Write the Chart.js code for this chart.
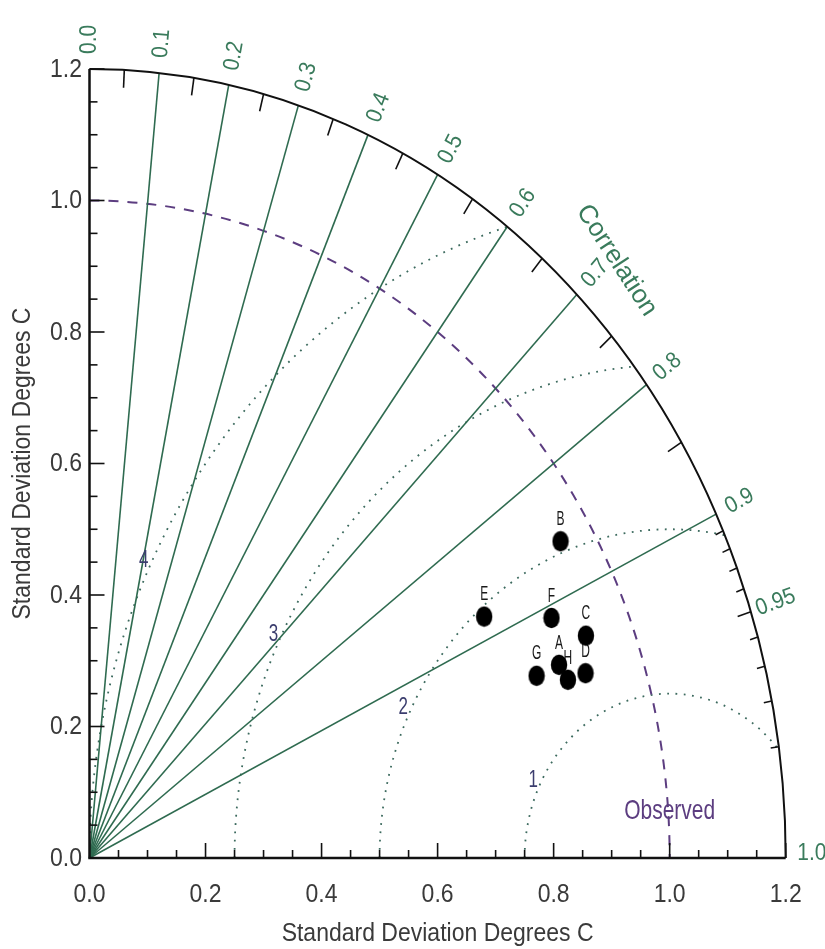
<!DOCTYPE html>
<html>
<head>
<meta charset="utf-8">
<script src="https://cdn.jsdelivr.net/npm/chart.js@4.4.1/dist/chart.umd.min.js"></script>
<style>
  html, body { margin: 0; padding: 0; background: #ffffff; }
  canvas { display: block; }
</style>
</head>
<body>
<canvas id="taylor" width="825" height="949"></canvas>
<script>
// Model runs: standard deviation (deg C) and correlation with the observations
const modelNames  = ['A', 'B', 'C', 'D', 'E', 'F', 'G', 'H'];
const stdDev      = [0.861, 0.944, 0.920, 0.900, 0.773, 0.876, 0.819, 0.868];
const correlation = [0.940, 0.860, 0.930, 0.950, 0.880, 0.909, 0.941, 0.950];

// Reference values
const observedStd = 1.0;
const maxStd = 1.2;

// Correlation labels around the outer arc and the radial lines
const corrLabelValues = [0.0, 0.1, 0.2, 0.3, 0.4, 0.5, 0.6, 0.7, 0.8, 0.9, 0.95, 1.0];
const corrLabelText   = ['0.0', '0.1', '0.2', '0.3', '0.4', '0.5', '0.6', '0.7', '0.8', '0.9', '0.95', '1.0'];
const corrLines       = [0.1, 0.2, 0.3, 0.4, 0.5, 0.6, 0.7, 0.8, 0.9];
const corrMinorTicks  = [0.05, 0.15, 0.25, 0.35, 0.45, 0.55, 0.65, 0.75, 0.85];
const corrFineTicks   = [0.91, 0.92, 0.93, 0.94, 0.96, 0.97, 0.98, 0.99];

// Centred RMS difference circles
const rmsRadii  = [0.25, 0.5, 0.75, 1.0];
const rmsLabels = ['1', '2', '3', '4'];

// Standard deviation axes
const axisTickValues = [0.0, 0.2, 0.4, 0.6, 0.8, 1.0, 1.2];
const axisTickLabels = ['0.0', '0.2', '0.4', '0.6', '0.8', '1.0', '1.2'];
const axisTitle = 'Standard Deviation Degrees C';
const correlationTitle = 'Correlation';
const observedLabel = 'Observed';

const FONT = '"Liberation Sans", Arial, "DejaVu Sans", sans-serif';
const GREEN_LINE = '#2f6b50';
const GREEN_TEXT = '#3a7b5c';
const PURPLE = '#5c3d80';
const DOTS = '#3c6a5e';

// Taylor-diagram coordinates of each model
const modelPoints = stdDev.map((s, i) => ({
  x: s * correlation[i],
  y: s * Math.sqrt(1 - correlation[i] * correlation[i]),
  name: modelNames[i]
}));

// Filled elliptical marker used for every model
const dot = document.createElement('canvas');
dot.width = 18; dot.height = 22;
(function () {
  const c = dot.getContext('2d');
  c.fillStyle = '#000';
  c.beginPath();
  c.ellipse(9, 11, 8.2, 10.2, 0, 0, Math.PI * 2);
  c.fill();
})();

function drawText(ctx, s, x, y, o) {
  ctx.save();
  ctx.translate(x, y);
  if (o.rot) ctx.rotate(o.rot);
  ctx.scale(o.sx || 1, o.sy || 1.1);
  ctx.font = (o.size || 23) + 'px ' + FONT;
  ctx.fillStyle = o.color || '#333';
  ctx.textAlign = o.align || 'center';
  ctx.textBaseline = 'middle';
  ctx.fillText(s, 0, 0);
  ctx.restore();
}

const taylorGrid = {
  id: 'taylorGrid',
  beforeDatasetsDraw(chart) {
    const ctx = chart.ctx;
    const xs = chart.scales.x, ys = chart.scales.y;
    const px = v => xs.getPixelForValue(v);
    const py = v => ys.getPixelForValue(v);
    const ox = px(0), oy = py(0);
    const kx = px(1) - ox, ky = oy - py(1);
    const polar = (r, c) => [px(r * c), py(r * Math.sqrt(Math.max(0, 1 - c * c)))];

    ctx.save();

    // RMS circles, clipped to the quarter disc
    ctx.save();
    ctx.beginPath();
    ctx.moveTo(ox, oy);
    ctx.lineTo(ox, py(maxStd));
    ctx.ellipse(ox, oy, maxStd * kx, maxStd * ky, 0, -Math.PI / 2, 0);
    ctx.closePath();
    ctx.clip();
    ctx.strokeStyle = DOTS;
    ctx.lineWidth = 1.8;
    ctx.setLineDash([1.8, 6.5]);
    rmsRadii.forEach(r => {
      ctx.beginPath();
      ctx.ellipse(px(observedStd), oy, r * kx, r * ky, 0, -Math.PI, 0);
      ctx.stroke();
    });
    ctx.restore();

    // observed standard deviation arc
    ctx.strokeStyle = PURPLE;
    ctx.lineWidth = 2;
    ctx.setLineDash([10, 9]);
    ctx.beginPath();
    ctx.ellipse(ox, oy, observedStd * kx, observedStd * ky, 0, -Math.PI / 2, 0);
    ctx.stroke();
    ctx.setLineDash([]);

    // correlation rays
    ctx.strokeStyle = GREEN_LINE;
    ctx.lineWidth = 1.6;
    corrLines.forEach(c => {
      const [ex, ey] = polar(maxStd, c);
      ctx.beginPath();
      ctx.moveTo(ox, oy);
      ctx.lineTo(ex, ey);
      ctx.stroke();
    });

    // outer arc and its ticks
    ctx.strokeStyle = '#111';
    ctx.lineWidth = 2;
    ctx.beginPath();
    ctx.ellipse(ox, oy, maxStd * kx, maxStd * ky, 0, -Math.PI / 2, 0);
    ctx.stroke();
    const arcTick = (c, len) => {
      const [ax, ay] = polar(maxStd, c);
      const [bx, by] = polar(maxStd - len, c);
      ctx.beginPath(); ctx.moveTo(ax, ay); ctx.lineTo(bx, by); ctx.stroke();
    };
    ctx.lineWidth = 1.6;
    corrMinorTicks.forEach(c => arcTick(c, 0.027));
    corrFineTicks.forEach(c => arcTick(c, 0.014));
    arcTick(0.95, 0.024);

    // axes with inward ticks
    ctx.lineWidth = 2.5;
    ctx.beginPath();
    ctx.moveTo(ox, py(maxStd)); ctx.lineTo(ox, oy); ctx.lineTo(px(maxStd), oy);
    ctx.stroke();
    ctx.lineWidth = 1.6;
    for (let i = 1; i <= 24; i++) {
      const v = i * 0.05;
      const len = (i % 4 === 0) ? 15 : 8;
      ctx.beginPath(); ctx.moveTo(px(v), oy); ctx.lineTo(px(v), oy - len); ctx.stroke();
      ctx.beginPath(); ctx.moveTo(ox, py(v)); ctx.lineTo(ox + len, py(v)); ctx.stroke();
    }

    // axis tick labels
    axisTickValues.forEach((v, i) => {
      drawText(ctx, axisTickLabels[i], px(v), 895, { size: 23, color: '#3a3a3a' });
      drawText(ctx, axisTickLabels[i], 82, py(v) + 1, { size: 23, color: '#3a3a3a', align: 'right' });
    });

    // axis titles
    drawText(ctx, axisTitle, (xs.left + xs.right) / 2, 934, { size: 23, color: '#3a3a3a' });
    drawText(ctx, axisTitle, 23, (ys.top + ys.bottom) / 2, { size: 23, color: '#3a3a3a', rot: -Math.PI / 2 });

    // correlation labels, turned along each ray
    corrLabelValues.forEach((c, i) => {
      const [lx, ly] = polar(1.245, c);
      const [ex, ey] = polar(1, c);
      const ang = Math.atan2(oy - ey, ex - ox);
      drawText(ctx, corrLabelText[i], lx, ly - (c === 1 ? 4 : 0), { size: 21, color: GREEN_TEXT, rot: -ang });
    });
    {
      const [cx, cy] = polar(1.285, 0.707);
      drawText(ctx, correlationTitle, cx, cy, { size: 26, color: GREEN_TEXT, rot: 57 * Math.PI / 180, sy: 1.0 });
    }

    // RMS circle labels
    const a = 153.5 * Math.PI / 180;
    rmsRadii.forEach((r, i) => {
      const rr = r + 0.013;
      drawText(ctx, rmsLabels[i], px(observedStd + rr * Math.cos(a)), py(rr * Math.sin(a)),
        { size: 20, color: '#3b3d6e', sx: 0.85, sy: 1.2 });
    });

    // observed label
    drawText(ctx, observedLabel, px(observedStd), py(0.0715), { size: 21, color: PURPLE, sy: 1.3 });

    // model letters, sitting under the markers
    const meta = chart.getDatasetMeta(0);
    meta.data.forEach((el, i) => {
      drawText(ctx, modelPoints[i].name, el.x, el.y - 22, { size: 16, color: '#1a1a1a', sx: 0.75, sy: 1.3 });
    });

    ctx.restore();
  }
};

new Chart(document.getElementById('taylor'), {
  type: 'scatter',
  data: {
    datasets: [{
      label: 'Models',
      data: modelPoints,
      pointStyle: dot,
      pointRadius: 10,
      backgroundColor: '#000',
      borderColor: '#000'
    }]
  },
  options: {
    responsive: false,
    animation: false,
    devicePixelRatio: 1,
    layout: { padding: { left: 89.5, right: 39.3, top: 69, bottom: 91 } },
    plugins: { legend: { display: false }, tooltip: { enabled: false } },
    scales: {
      x: { type: 'linear', min: 0, max: maxStd, display: false },
      y: { type: 'linear', min: 0, max: maxStd, display: false }
    }
  },
  plugins: [taylorGrid]
});
</script>
</body>
</html>
